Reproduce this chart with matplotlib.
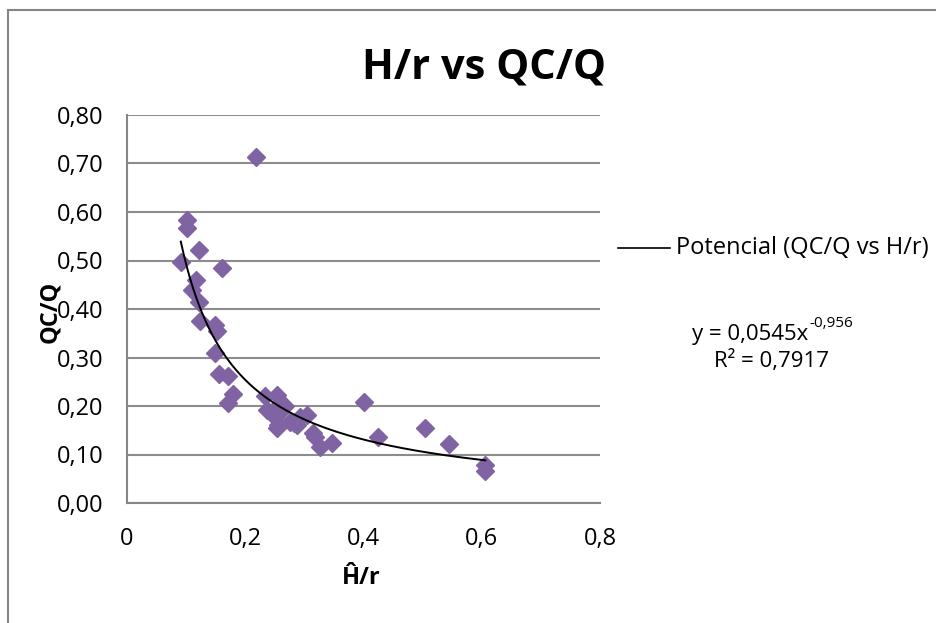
import matplotlib
matplotlib.use("Agg")
import matplotlib.pyplot as plt
import numpy as np
from matplotlib.lines import Line2D
from matplotlib.ticker import FuncFormatter

# H/r vs QC/Q points
h_r = [0.219, 0.101, 0.101, 0.121, 0.091, 0.160, 0.116, 0.110, 0.121, 0.124,
       0.149, 0.152, 0.149, 0.155, 0.171, 0.180, 0.171, 0.233, 0.253, 0.236,
       0.245, 0.250, 0.259, 0.256, 0.253, 0.267, 0.276, 0.282, 0.293, 0.304,
       0.287, 0.315, 0.318, 0.327, 0.346, 0.400, 0.425, 0.504, 0.545, 0.606,
       0.606]
qc_q = [0.713, 0.583, 0.568, 0.522, 0.497, 0.485, 0.460, 0.439, 0.414, 0.376,
        0.368, 0.354, 0.309, 0.266, 0.262, 0.224, 0.206, 0.220, 0.223, 0.192,
        0.188, 0.178, 0.188, 0.161, 0.154, 0.199, 0.168, 0.164, 0.178, 0.181,
        0.160, 0.144, 0.137, 0.116, 0.123, 0.209, 0.137, 0.155, 0.121, 0.078,
        0.067]

# power trend line reported by the chart
coef_a, coef_b = 0.0545, -0.956
r2 = 0.7917

plt.rcParams["font.family"] = ["Open Sans", "DejaVu Sans"]
W, H = 936, 623

def fx(px):
    return px / W

def fy(py):
    return 1 - py / H

def comma(s):
    return s.replace(".", ",")

fig = plt.figure(figsize=(9.36, 6.23), dpi=100)
ax = fig.add_axes([fx(127), fy(503), 473 / W, 388 / H])

ax.plot(h_r, qc_q, ls="none", marker="D", ms=9, color="#7f63a2", zorder=3)
xs = np.linspace(min(h_r), max(h_r), 200)
ax.plot(xs, coef_a * xs ** coef_b, color="black", lw=1.4, zorder=4)

ax.set_xlim(0, 0.8)
ax.set_ylim(0, 0.8)
ax.set_xticks([0, 0.2, 0.4, 0.6, 0.8])
ax.set_yticks(np.arange(0, 0.81, 0.1))
ax.xaxis.set_major_formatter(FuncFormatter(lambda v, p: "0" if v == 0 else comma(f"{v:.1f}")))
ax.yaxis.set_major_formatter(FuncFormatter(lambda v, p: comma(f"{v:.2f}")))
ax.tick_params(labelsize=17, length=0, pad=17)
ax.grid(axis="y", color="#8c8c8c", lw=1.5)
ax.set_axisbelow(True)
for s in ["top", "right"]:
    ax.spines[s].set_visible(False)
for s in ["left", "bottom"]:
    ax.spines[s].set_color("#868686")
    ax.spines[s].set_linewidth(1.5)

# axis titles
fig.text(fx(361), fy(578), "Ĥ/r", fontsize=17, fontweight="bold", ha="center", va="center")
fig.text(fx(50), fy(312), "QC/Q", fontsize=17, fontweight="bold", ha="center", va="center",
         rotation=90)

fig.text(fx(484), fy(68), "H/r vs QC/Q", fontsize=30, fontweight="bold",
         ha="center", va="center")

# legend entry for the trend line
fig.add_artist(Line2D([fx(618), fx(670)], [fy(248)] * 2, color="black", lw=1.2))
fig.text(fx(676), fy(248), "Potencial (QC/Q vs H/r)", fontsize=17, va="center")

# trend line equation, exponent as a separate small text
eq = fig.text(fx(692), fy(340), "y = " + comma(f"{coef_a}") + "x", fontsize=16, va="baseline")
fig.canvas.draw()
fig.text(eq.get_window_extent().x1 / W + 0.001, fy(327),
         comma(f"{coef_b}"), fontsize=11, va="baseline")
fig.text(fx(772), fy(361), "R² = " + comma(f"{r2}"), fontsize=16, ha="center", va="center")

# chart area border
fig.add_artist(Line2D([fx(8), fx(8)], [0, fy(10)], color="#868686", lw=1.5))
fig.add_artist(Line2D([fx(8), 1], [fy(10)] * 2, color="#868686", lw=1.5))

fig.savefig("out.png", dpi=100)
